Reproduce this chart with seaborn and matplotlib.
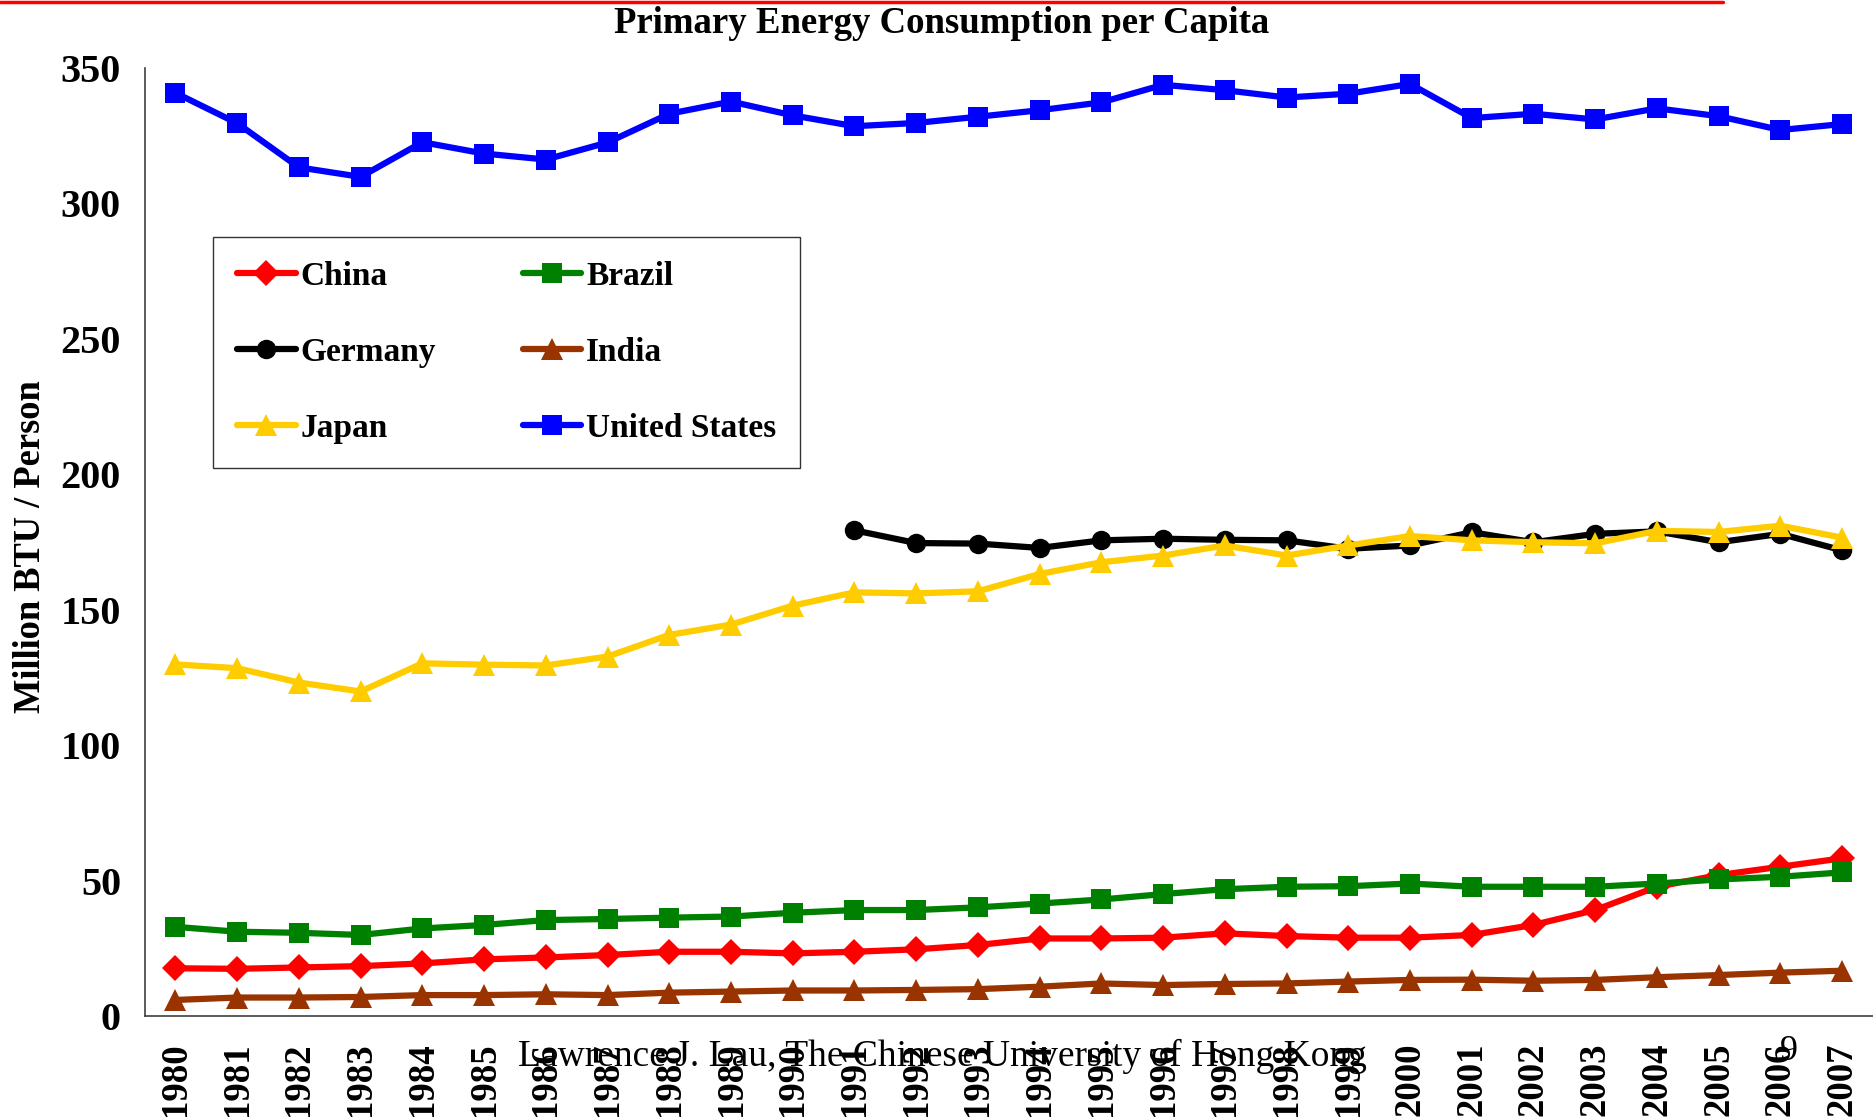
import numpy as np
import pandas as pd
import matplotlib.pyplot as plt
import seaborn as sns
from matplotlib.lines import Line2D

years = list(range(1980, 2008))

china = [17.6, 17.4, 17.9, 18.4, 19.4, 20.9, 21.6, 22.5, 23.7, 23.7, 23.1, 23.7, 24.6, 26.2,
         28.6, 28.6, 28.9, 30.5, 29.5, 28.9, 28.9, 29.9, 33.6, 39.1, 47.7, 52.0, 55.1, 58.2]
brazil = [32.9, 31.1, 30.7, 29.9, 32.3, 33.6, 35.4, 35.8, 36.3, 36.7, 38.1, 39.1, 39.1, 40.1,
          41.5, 43.0, 45.0, 46.8, 47.7, 47.9, 48.9, 47.7, 47.7, 47.7, 48.9, 50.4, 51.4, 53.0]
germany = [np.nan] * 11 + [179.3, 174.6, 174.4, 172.8, 175.6, 176.2, 175.8, 175.6, 172.5,
                           173.7, 178.6, 174.9, 178.0, 178.9, 174.9, 178.0, 171.9]
india = [5.9, 6.8, 6.8, 7.0, 7.7, 7.7, 8.0, 7.7, 8.6, 9.0, 9.4, 9.4, 9.6, 9.9,
         10.8, 12.0, 11.4, 11.8, 12.0, 12.7, 13.3, 13.4, 13.0, 13.3, 14.3, 15.1, 16.0, 16.7]
japan = [129.8, 128.4, 123.1, 119.8, 130.2, 129.7, 129.4, 132.7, 140.7, 144.5, 151.5, 156.4,
         156.0, 156.8, 163.2, 167.5, 170.0, 173.7, 170.0, 173.7, 177.2, 175.6, 174.9, 174.5,
         179.1, 178.7, 181.0, 176.6]
usa = [340.8, 329.6, 313.3, 309.8, 322.6, 318.4, 316.2, 322.5, 333.1, 337.6, 332.5, 328.5,
       329.7, 332.0, 334.4, 337.3, 343.8, 341.8, 339.1, 340.5, 344.1, 331.5, 333.1, 331.0,
       335.1, 332.2, 327.1, 329.3]

countries = ['China', 'Brazil', 'Germany', 'India', 'Japan', 'United States']
series = [china, brazil, germany, india, japan, usa]
colors = ['#FF0000', '#008000', '#000000', '#993300', '#FFCC00', '#0000FF']
markers = ['D', 's', 'o', '^', '^', 's']
msizes = [13, 15, 14, 16, 16, 15]

df = pd.DataFrame({
    'year': years * len(countries),
    'value': sum(series, []),
    'country': np.repeat(countries, len(years)),
})

sns.set_style('white')
plt.rcParams['font.family'] = ['Liberation Serif', 'DejaVu Serif']
plt.rcParams['font.weight'] = 'bold'
plt.rcParams['text.color'] = 'black'
plt.rcParams['xtick.color'] = 'black'
plt.rcParams['ytick.color'] = 'black'

fig = plt.figure(figsize=(18.73, 11.2), dpi=100)
ax = fig.add_axes([0.0772, 0.0929, 0.9228, 0.8464])

handles = {}
for c, col, mk, ms in zip(countries, colors, markers, msizes):
    sub = df[df['country'] == c].dropna()
    sns.lineplot(data=sub, x='year', y='value', color=col, marker=mk, markersize=ms,
                 markeredgewidth=0, linewidth=4.5, ax=ax, label=c, legend=False)
    handles[c] = ax.lines[-1]

ax.set_xlim(1979.5, 2007.5)
ax.set_ylim(0, 350)
ax.set_yticks(range(0, 351, 50))
ax.set_xticks(years)
ax.set_xticks(np.arange(1979.5, 2008, 1), minor=True)
ax.set_xticklabels([str(y) for y in years], rotation=90, fontsize=26.5, fontweight='bold')
ax.tick_params(axis='x', which='major', length=0, pad=19)
ax.tick_params(axis='x', which='minor', length=8, width=1, color='#404040', direction='out')
ax.tick_params(axis='y', length=7, width=1, color='#404040', direction='out', pad=10,
               labelsize=29)
for lab in ax.get_yticklabels():
    lab.set_fontweight('bold')
ax.set_xlabel('')
ax.set_ylabel('')
for s in ['top', 'right']:
    ax.spines[s].set_visible(False)
for s in ['left', 'bottom']:
    ax.spines[s].set_color('#404040')
    ax.spines[s].set_linewidth(1.2)

order = ['China', 'Germany', 'Japan', 'Brazil', 'India', 'United States']
leg = ax.legend([handles[c] for c in order], order, ncol=2, loc='upper left',
                bbox_to_anchor=(0.0397, 0.822), borderaxespad=0,
                prop={'weight': 'bold', 'size': 24}, frameon=True, fancybox=False,
                edgecolor='black', handlelength=1.75, handletextpad=0.15,
                columnspacing=2.6, labelspacing=1.35, borderpad=0.72)
leg.get_frame().set_linewidth(1.0)

fig.text(0.503, 0.979, 'Primary Energy Consumption per Capita', ha='center', va='center',
         fontsize=26.5, fontweight='bold')
fig.text(31 / 1873, 0.512, 'Million BTU / Person', rotation=90, ha='center', va='center',
         fontsize=26.3, fontweight='bold')
fig.text(0.503, 0.057, 'Lawrence J. Lau, The Chinese University of Hong Kong', ha='center',
         va='center', fontsize=27, fontweight='normal')
fig.text(0.955, 0.0616, '9', ha='center', va='center', fontsize=26, fontweight='normal')
fig.add_artist(Line2D([0, 0.92], [0.9985, 0.9985], color='#FF0000', linewidth=2.5))

fig.savefig('out.png', dpi=100)
